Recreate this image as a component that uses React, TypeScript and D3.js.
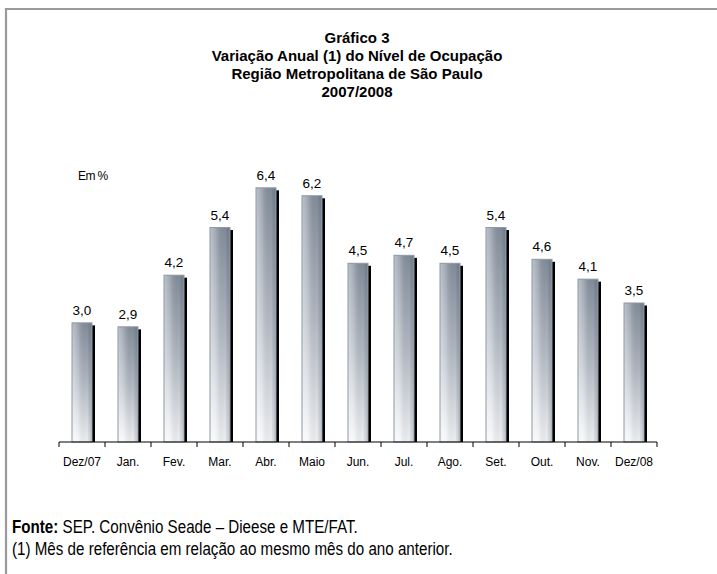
import React from "react";
import * as d3 from "d3";

const categories = ["Dez/07", "Jan.", "Fev.", "Mar.", "Abr.", "Maio", "Jun.", "Jul.", "Ago.", "Set.", "Out.", "Nov.", "Dez/08"];
const values = [3.0, 2.9, 4.2, 5.4, 6.4, 6.2, 4.5, 4.7, 4.5, 5.4, 4.6, 4.1, 3.5];
const titleLines = ["Gráfico 3", "Variação Anual (1) do Nível de Ocupação", "Região Metropolitana de São Paulo", "2007/2008"];
const unitLabel = "Em %";
const sourceBold = "Fonte:";
const sourceText = " SEP. Convênio Seade – Dieese e MTE/FAT.";
const noteText = "(1) Mês de referência em relação ao mesmo mês do ano anterior.";

const W = 717;
const H = 574;
const sans = "'Liberation Sans', Arial, Helvetica, sans-serif";
const NARROW = 0.82;
const TITLE_SCALE = 0.97;

export default function App() {
  const x = d3.scaleBand<string>().domain(categories).range([59, 657]).paddingInner(0).paddingOuter(0);
  const y = d3.scaleLinear().domain([0, 7]).range([442, 164]);
  const bw = 20;
  const fmt = (v: number) => d3.format(".1f")(v).replace(".", ",");
  const ticks = [...categories.map((c) => x(c)!), 657];

  return (
    <svg width={W} height={H} style={{ position: "absolute", left: 0, top: 0, background: "#fff" }}>
      <defs>
        <linearGradient id="barV" x1="0" y1="0" x2="0" y2="1">
          <stop offset="0" stopColor="#86909e" />
          <stop offset="0.5" stopColor="#b7bec8" />
          <stop offset="1" stopColor="#f6f7f9" />
        </linearGradient>
        <linearGradient id="barH" x1="0" y1="0" x2="1" y2="0">
          <stop offset="0" stopColor="#ffffff" stopOpacity="0.45" />
          <stop offset="0.3" stopColor="#ffffff" stopOpacity="0.2" />
          <stop offset="0.75" stopColor="#000000" stopOpacity="0.03" />
          <stop offset="0.92" stopColor="#20303f" stopOpacity="0.2" />
          <stop offset="1" stopColor="#20303f" stopOpacity="0.12" />
        </linearGradient>
      </defs>
      <rect x={0} y={0} width={W} height={H} fill="#fff" />
      <path d="M6,574 V9 H717" fill="none" stroke="#9a9a9a" strokeWidth={2.2} />

      <g transform={`translate(357,0) scale(${TITLE_SCALE},1)`}>
        {titleLines.map((t, i) => (
          <text key={t} x={0} y={43 + i * 18} textAnchor="middle" fontFamily={sans} fontWeight="bold" fontSize={15.5} fill="#000">
            {t}
          </text>
        ))}
      </g>

      <text x={78} y={180} fontFamily={sans} fontSize={12} fill="#000" letterSpacing={-0.6}>
        {unitLabel}
      </text>

      {categories.map((c, i) => {
        const cx = x(c)! + x.bandwidth() / 2;
        const top = y(values[i]);
        return (
          <g key={c}>
            <rect x={cx - bw / 2 + 3} y={top + 2.5} width={bw} height={442 - top - 2.5} fill="#000" />
            <rect x={cx - bw / 2} y={top} width={bw} height={442 - top} fill="url(#barV)" />
            <rect x={cx - bw / 2} y={top} width={bw} height={442 - top} fill="url(#barH)" stroke="#8e98a6" strokeWidth={1} />
            <text x={cx} y={top - 8} textAnchor="middle" fontFamily={sans} fontSize={13.5} fill="#000">
              {fmt(values[i])}
            </text>
            <text x={cx} y={466} textAnchor="middle" fontFamily={sans} fontSize={12} fill="#000">
              {c}
            </text>
          </g>
        );
      })}

      <line x1={59} x2={657} y1={442} y2={442} stroke="#000" strokeWidth={1} />
      {ticks.map((t, i) => (
        <line key={i} x1={t} x2={t} y1={442} y2={447} stroke="#000" strokeWidth={1} />
      ))}

      <g transform={`translate(12,0) scale(${NARROW},1)`}>
        <text fontFamily={sans} fontSize={18.5} fill="#000">
          <tspan x={0} y={533} fontWeight="bold">{sourceBold}</tspan>
          <tspan>{sourceText}</tspan>
          <tspan x={0} y={555}>{noteText}</tspan>
        </text>
      </g>
    </svg>
  );
}
